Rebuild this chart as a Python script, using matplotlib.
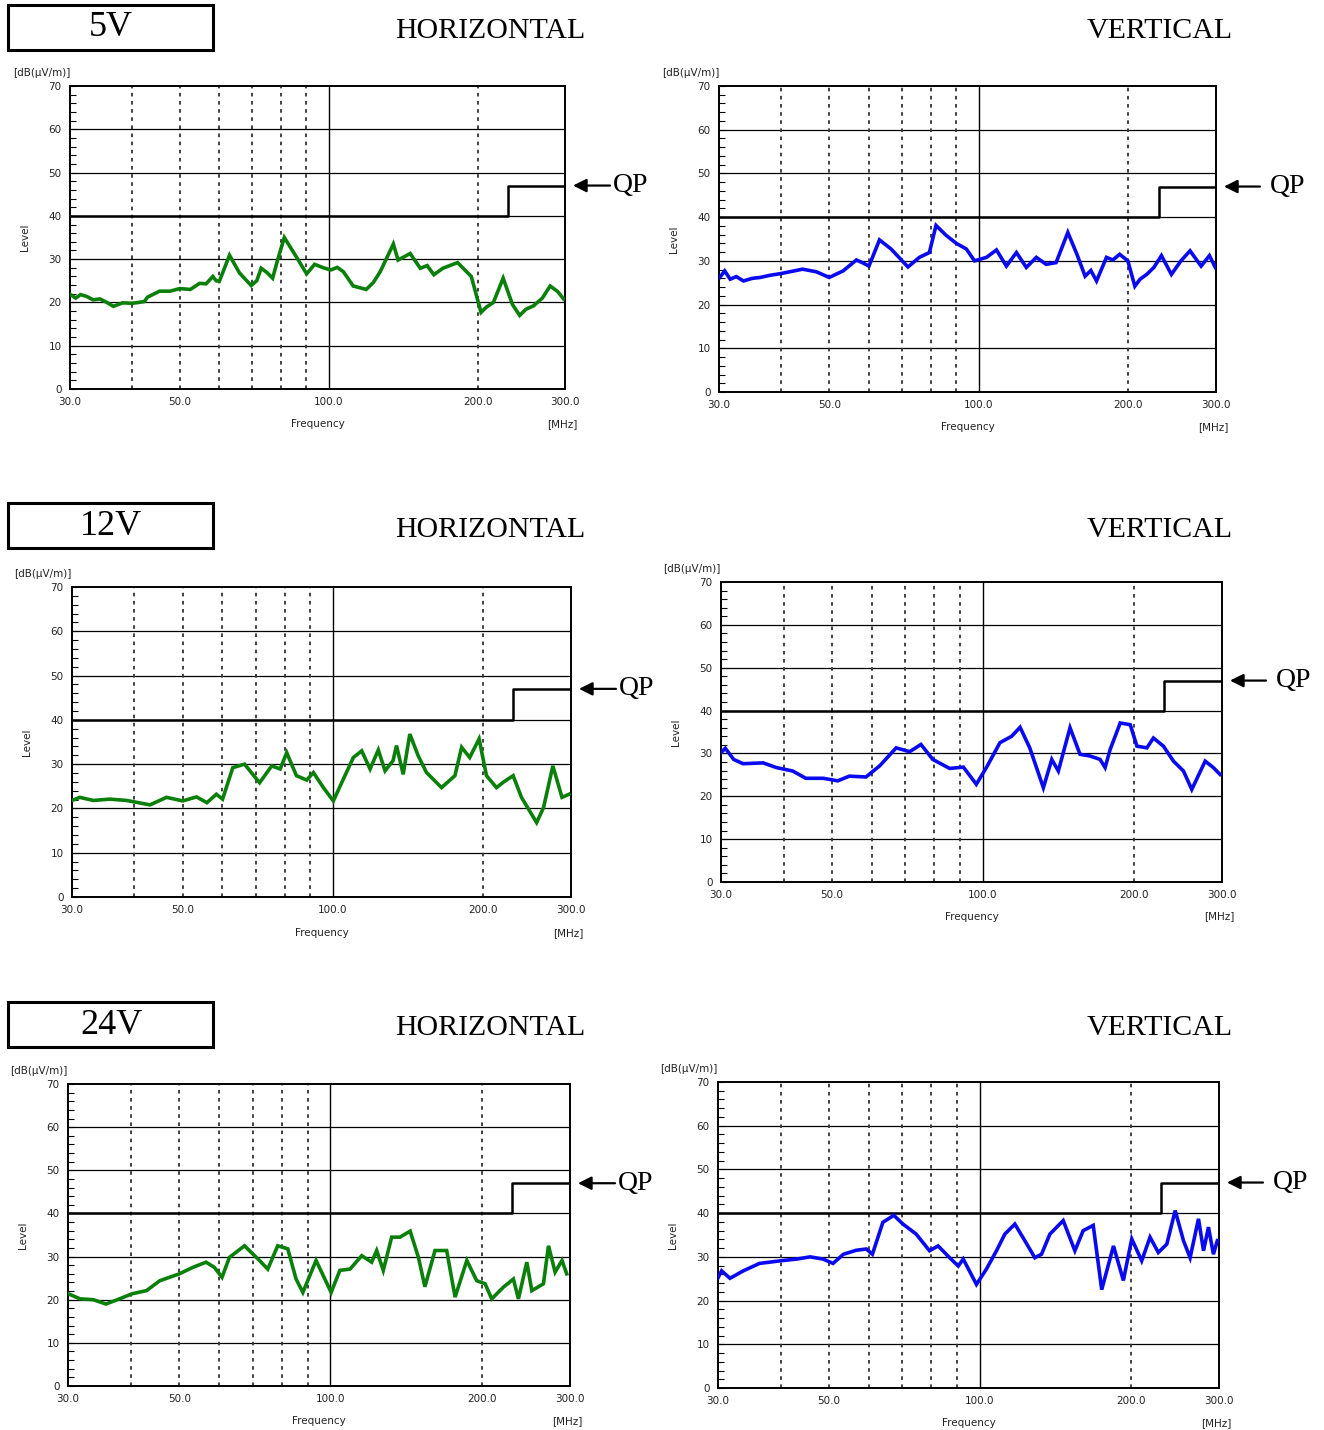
import matplotlib
matplotlib.use('Agg')
import matplotlib.pyplot as plt
from matplotlib.patches import Rectangle
from matplotlib.ticker import FixedLocator, MultipleLocator, NullLocator

W, H = 1324, 1430

voltages = ['5V', '12V', '24V']
polarizations = ['HORIZONTAL', 'VERTICAL']

x_ticks = [30, 50, 100, 200, 300]
x_tick_labels = ['30.0', '50.0', '100.0', '200.0', '300.0']
dashed_freqs = [40, 50, 60, 70, 80, 90, 200]
solid_freqs = [100]
y_ticks = [0, 10, 20, 30, 40, 50, 60, 70]

# QP limit (class B, 3 m)
limit_freq = [30, 230, 230, 300]
limit_level = [40, 40, 47, 47]

# --- 5V ---
h5_freq = [30.0, 30.8, 31.5, 32.4, 33.4, 34.5, 35.6, 36.7, 38.3, 40.1, 42.4, 43.0,
           45.5, 47.8, 50.0, 52.5, 54.8, 56.5, 58.3, 59.2, 60.1, 63.0, 66.0, 69.7,
           71.5, 73.0, 75.0, 77.0, 78.8, 81.3, 86.0, 90.2, 93.6, 97.5, 100.9, 104,
           107, 112, 119, 123, 127, 135, 138, 146, 153, 158, 163, 170, 182, 194,
           203, 208, 215, 225, 235, 243, 250, 259, 270, 280, 290, 298]
h5_level = [21.9, 21.0, 21.8, 21.4, 20.6, 20.8, 20.0, 19.1, 19.9, 19.8, 20.2, 21.2,
            22.6, 22.6, 23.2, 23.0, 24.4, 24.3, 26.0, 25.0, 24.9, 30.9, 26.8, 23.9,
            25.0, 27.9, 26.9, 25.6, 29.8, 35.0, 30.5, 26.6, 28.8, 28.0, 27.5, 28.1,
            27.1, 23.8, 23.0, 24.6, 27.1, 33.5, 29.8, 31.3, 27.9, 28.5, 26.4, 27.9,
            29.2, 26.0, 17.7, 18.9, 20.0, 25.6, 19.5, 17.0, 18.4, 19.2, 21.0, 23.8,
            22.5, 20.8]

v5_freq = [30.1, 30.8, 31.6, 32.5, 33.6, 35.0, 36.3, 38.0, 40.0, 44.2, 47.1, 50.0,
           53.3, 56.7, 58.5, 60.1, 63.1, 66.6, 72.0, 75.9, 79.5, 82.0, 86.0, 90.1,
           94.4, 98.0, 103.6, 108.5, 113.6, 119, 124.6, 130.5, 136.6, 143, 151,
           157.5, 163.6, 168, 172.5, 180.6, 186, 192, 199.4, 206, 211, 217.6, 225,
           233, 244, 255, 266, 280, 291, 299]
v5_level = [26.2, 27.7, 25.8, 26.4, 25.4, 26.0, 26.2, 26.7, 27.1, 28.1, 27.5, 26.2,
            27.7, 30.2, 29.5, 28.8, 34.8, 32.7, 28.6, 30.8, 31.9, 38.1, 35.8, 34.0,
            32.7, 30.0, 30.8, 32.5, 28.8, 31.9, 28.5, 30.8, 29.2, 29.6, 36.5,
            31.5, 26.5, 27.8, 25.4, 30.8, 30.2, 31.5, 30.0, 24.2, 25.8, 26.9, 28.5,
            31.2, 26.9, 30.0, 32.3, 28.8, 31.2, 28.5]

# --- 12V ---
h12_freq = [30.0, 31.1, 33.1, 35.7, 38.6, 43.0, 46.4, 50.0, 53.3, 55.9, 58.4, 60.1,
            63.0, 66.5, 71.3, 75.4, 78.4, 80.8, 84.5, 88.6, 91.4, 95.7, 100.2, 104.9,
            109.9, 114.2, 118.7, 123.3, 127.2, 132, 134.1, 138.3, 142.6, 148.2, 154.0,
            165.1, 175.6, 181.1, 188.0, 196.3, 203.1, 212.7, 220, 229.7, 238.7, 256,
            264.3, 275.9, 287.8, 297.3]
h12_level = [21.8, 22.5, 21.8, 22.1, 21.8, 20.8, 22.5, 21.7, 22.6, 21.3, 23.2, 22.1,
             29.2, 30.0, 25.8, 29.6, 28.9, 32.6, 27.4, 26.4, 28.1, 24.7, 21.7, 26.6,
             31.5, 33.0, 28.9, 33.2, 28.5, 30.8, 34.2, 27.7, 36.8, 31.9, 28.1,
             24.7, 27.4, 33.8, 31.5, 35.7, 27.4, 24.7, 26.0, 27.4, 22.5, 16.8,
             20.2, 29.6, 22.5, 23.2]

v12_freq = [30.0, 30.6, 31.8, 33.2, 36.4, 38.7, 41.7, 44.3, 48.0, 51.3, 54.1, 58.4,
            62.2, 67.1, 71.4, 75.2, 79.4, 85.8, 91.4, 97.0, 101.7, 108.1, 114.1, 118.6,
            124, 132, 137.2, 141.4, 149.2, 156.2, 163.6, 171.3, 175.3, 179.4, 187.9,
            196.8, 202.9, 212.4, 218.9, 229.2, 240, 251.3, 261.1, 277.7, 288.3, 297.3]
v12_level = [30.2, 31.2, 28.6, 27.6, 27.8, 26.7, 25.9, 24.2, 24.2, 23.6, 24.7, 24.5,
             27.1, 31.3, 30.4, 32.1, 28.6, 26.5, 26.8, 22.8, 26.8, 32.5, 34.0, 36.1,
             31.3, 22.0, 28.6, 25.9, 36.0, 29.8, 29.4, 28.6, 26.7, 30.9, 37.1,
             36.7, 31.7, 31.3, 33.6, 31.7, 28.2, 25.9, 21.6, 28.2, 26.7, 25.1]

# --- 24V ---
h24_freq = [30.0, 31.7, 33.7, 35.7, 38.0, 40.3, 43.0, 45.7, 50.0, 53.2, 56.5, 58.7,
            60.8, 62.9, 67.4, 72.2, 75.0, 78.5, 82.2, 85.4, 88.1, 93.6, 100.3, 104.4,
            109.4, 115.4, 120.8, 123.6, 127.4, 132.4, 137.6, 144.1, 149.7, 154.2, 161.5,
            170.4, 177.1, 186.9, 195.6, 203.2, 209.5, 221.0, 231.4, 236.8, 246.1, 251.8,
            265.6, 271.8, 280.2, 289.2, 295.5]
h24_level = [21.4, 20.2, 20.0, 19.0, 20.2, 21.4, 22.1, 24.4, 26.0, 27.5, 28.7, 27.5,
             25.2, 29.8, 32.5, 29.1, 27.1, 32.5, 31.8, 24.8, 21.7, 29.1, 21.7, 26.8,
             27.1, 30.2, 28.7, 31.4, 26.8, 34.5, 34.5, 35.9, 29.8, 23.0, 31.4,
             31.4, 20.6, 29.1, 24.4, 23.7, 20.2, 22.9, 24.8, 20.2, 28.7, 22.1,
             23.7, 32.5, 26.4, 29.1, 26.0]

v24_freq = [30.0, 30.5, 31.7, 33.7, 36.3, 40.0, 43.1, 45.8, 48.6, 50.9, 53.4, 56.6,
            59.3, 61.0, 64.0, 67.3, 70.2, 74.6, 79.3, 82.5, 87.0, 90.5, 92.6, 98.4,
            103.0, 107.9, 112.1, 117.4, 122.9, 128.7, 132.7, 137.9, 146.6, 154.7, 160.7,
            168.3, 175, 184.7, 193.3, 200.9, 210.3, 218.5, 227, 236, 245.3, 254.8,
            262.7, 273, 279.4, 285.8, 292.4, 297.7]
v24_level = [25.2, 26.8, 25.1, 26.8, 28.5, 29.1, 29.5, 30.0, 29.5, 28.5, 30.6, 31.5,
             31.8, 30.6, 37.9, 39.5, 37.5, 35.2, 31.4, 32.5, 29.8, 27.9, 29.5, 23.7,
             27.2, 31.4, 35.2, 37.5, 33.7, 29.8, 30.6, 35.2, 38.3, 31.4, 36.0,
             37.2, 22.5, 32.5, 24.6, 34.1, 29.1, 34.5, 31.0, 32.9, 40.6, 33.7,
             29.8, 38.7, 31.4, 36.8, 30.6, 33.7]

curves = [[(h5_freq, h5_level), (v5_freq, v5_level)],
          [(h12_freq, h12_level), (v12_freq, v12_level)],
          [(h24_freq, h24_level), (v24_freq, v24_level)]]
trace_colors = ['#0a800a', '#0a0af0']

# axes boxes in pixels: left, top, right, bottom
boxes = [[(70, 86, 565, 389), (719, 86, 1216, 392)],
         [(72, 587, 571, 897), (721, 582, 1222, 882)],
         [(68, 1084, 570, 1386), (718, 1082, 1219, 1388)]]
header_y = [31, 530, 1028]
vbox_top = [5, 503, 1002]

fig = plt.figure(figsize=(W / 100, H / 100), dpi=100)
small = dict(family='DejaVu Sans', fontsize=7.5, color='#222222')
serif = ['Liberation Serif', 'DejaVu Serif']

for r in range(3):
    # voltage box and headers
    fig.patches.append(Rectangle((8 / W, 1 - (vbox_top[r] + 45) / H), 205 / W, 45 / H,
                                 transform=fig.transFigure, fill=False, lw=2.2,
                                 ec='black'))
    fig.text(111 / W, 1 - (vbox_top[r] + 23) / H, voltages[r], family=serif,
             fontsize=26, ha='center', va='center')
    fig.text(490 / W, 1 - header_y[r] / H, polarizations[0], family=serif,
             fontsize=21.5, ha='center', va='center')
    fig.text(1160 / W, 1 - header_y[r] / H, polarizations[1], family=serif,
             fontsize=21.5, ha='center', va='center')

    for c in range(2):
        l, t, rr, b = boxes[r][c]
        ax = fig.add_axes([l / W, 1 - b / H, (rr - l) / W, (b - t) / H])
        ax.set_xscale('log')
        ax.set_xlim(30, 300)
        ax.set_ylim(0, 70)

        for y in y_ticks[1:-1]:
            ax.axhline(y, color='black', lw=0.9, zorder=1)
        for f in dashed_freqs:
            ax.axvline(f, color='#333333', lw=1.3, ls=(0, (2, 2.5)), zorder=1)
        for f in solid_freqs:
            ax.axvline(f, color='black', lw=1.0, zorder=1)

        ax.plot(limit_freq, limit_level, color='black', lw=1.8, zorder=2)
        fr, lv = curves[r][c]
        ax.plot(fr, lv, color=trace_colors[c], lw=2.6, zorder=3,
                solid_joinstyle='miter')

        ax.xaxis.set_major_locator(FixedLocator(x_ticks))
        ax.xaxis.set_minor_locator(NullLocator())
        ax.set_xticklabels(x_tick_labels)
        ax.yaxis.set_major_locator(FixedLocator(y_ticks))
        ax.yaxis.set_minor_locator(MultipleLocator(2))
        ax.tick_params(axis='x', length=0, pad=6, labelsize=7.5, labelcolor='#222222')
        ax.tick_params(axis='y', which='both', direction='in', length=4, width=0.8,
                       pad=6, labelsize=7.5, labelcolor='#222222')
        for sp in ax.spines.values():
            sp.set_linewidth(1.4)

        ax.text(-0.115, 1.025, '[dB(μV/m)]', transform=ax.transAxes, ha='left',
                va='bottom', **small)
        ax.text(-0.09, 0.5, 'Level', transform=ax.transAxes, rotation=90,
                ha='center', va='center', **small)
        ax.text(0.5, -0.115, 'Frequency', transform=ax.transAxes, ha='center',
                va='center', **small)
        ax.text(0.995, -0.115, '[MHz]', transform=ax.transAxes, ha='center',
                va='center', **small)

        # QP arrow pointing at the upper limit segment
        y_px = b - 47 * (b - t) / 70
        head = rr + 8
        tail = rr + (45 if c == 0 else 44)
        txt_x = rr + (48 if c == 0 else 54)
        fig.add_artist(plt.Annotation('', xy=(head / W, 1 - y_px / H),
                                      xytext=(tail / W, 1 - y_px / H),
                                      xycoords='figure fraction',
                                      arrowprops=dict(arrowstyle='-|>', color='black',
                                                      lw=1.6, mutation_scale=20,
                                                      shrinkA=0, shrinkB=0)))
        fig.text(txt_x / W, 1 - y_px / H, 'QP', family=serif, fontsize=20,
                 ha='left', va='center')

fig.savefig('out.png', dpi=100)
